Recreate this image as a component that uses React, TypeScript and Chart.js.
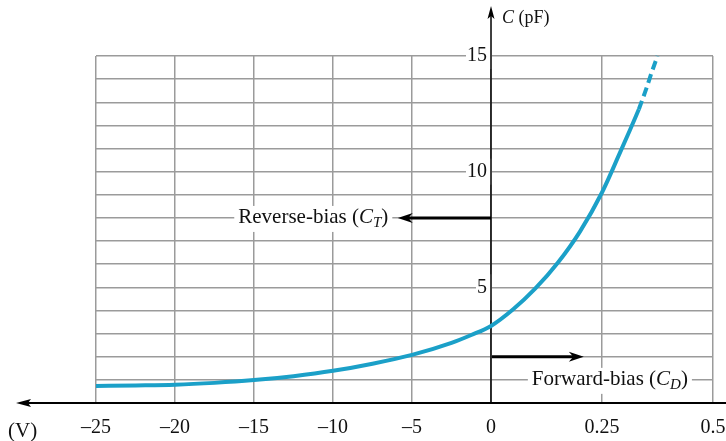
import React, { useEffect, useRef } from 'react';
import { Chart, registerables } from 'chart.js';

Chart.register(...registerables);

// ---- axis ticks ----
const X_TICK_VALUES = [-25, -20, -15, -10, -5, 0, 0.25, 0.5];
const X_TICK_LABELS = ['–25', '–20', '–15', '–10', '–5', '0', '0.25', '0.5'];
const Y_MIN = 0;
const Y_MAX = 15;
const Y_LABELED = [5, 10, 15];

// ---- curve data (V in volts, C in pF) ----
const V_SOLID = [-25, -22.5, -20, -17.5, -15, -12.5, -10, -7.5, -5, -2.5, -1.25, 0, 0.05, 0.1, 0.15, 0.2, 0.25, 0.29, 0.313, 0.333];
const C_SOLID = [0.74, 0.76, 0.79, 0.87, 0.99, 1.16, 1.39, 1.7, 2.08, 2.6, 2.94, 3.33, 4.05, 4.95, 6.05, 7.4, 9.1, 10.8, 11.8, 12.7];
const V_DASHED = [0.333, 0.35, 0.362, 0.375];
const C_DASHED = [12.7, 13.6, 14.3, 15.0];

// ---- annotations (data coordinates) ----
const REVERSE_ARROW_V = [0, -5.9];
const REVERSE_ARROW_C = 8;
const REVERSE_LABEL_END_V = -6.5;
const FORWARD_ARROW_V = [0, 0.209];
const FORWARD_ARROW_C = 2;
const FORWARD_LABEL_START_V = 0.092;
const FORWARD_LABEL_C = 1;

// mixed axis: reverse side 5 V per division, forward side 0.25 V per (wider) division
const REVERSE_VOLTS_PER_DIV = 5;
const FORWARD_VOLTS_PER_DIV = 0.25;
const FORWARD_DIV_WIDTH = 1.405;
const toAxis = (v: number) =>
  v <= 0 ? v / REVERSE_VOLTS_PER_DIV : (v / FORWARD_VOLTS_PER_DIV) * FORWARD_DIV_WIDTH;

const SERIF = '"Liberation Serif", "Times New Roman", serif';
const CURVE_COLOR = '#1ba0c8';
const GRID_COLOR = '#9b9b9b';

type Part = { text: string; font: string; dy?: number };

function richWidth(ctx: CanvasRenderingContext2D, parts: Part[]) {
  let w = 0;
  for (const p of parts) {
    ctx.font = p.font;
    w += ctx.measureText(p.text).width;
  }
  return w;
}

function drawRich(ctx: CanvasRenderingContext2D, parts: Part[], x: number, y: number) {
  let cx = x;
  ctx.textBaseline = 'middle';
  ctx.textAlign = 'left';
  for (const p of parts) {
    ctx.font = p.font;
    ctx.fillText(p.text, cx, y + (p.dy || 0));
    cx += ctx.measureText(p.text).width;
  }
}

function arrow(ctx: CanvasRenderingContext2D, x0: number, y0: number, x1: number, y1: number) {
  const dir = Math.sign(x1 - x0);
  const headLen = 15;
  const headHalf = 5;
  ctx.save();
  ctx.strokeStyle = '#000';
  ctx.fillStyle = '#000';
  ctx.lineWidth = 3;
  ctx.beginPath();
  ctx.moveTo(x0, y0);
  ctx.lineTo(x1 - dir * headLen * 0.6, y1);
  ctx.stroke();
  ctx.beginPath();
  ctx.moveTo(x1, y1);
  ctx.lineTo(x1 - dir * headLen, y1 - headHalf);
  ctx.lineTo(x1 - dir * headLen * 0.7, y1);
  ctx.lineTo(x1 - dir * headLen, y1 + headHalf);
  ctx.closePath();
  ctx.fill();
  ctx.restore();
}

const decorPlugin = {
  id: 'decor',
  beforeDatasetsDraw(chart: any) {
    const ctx: CanvasRenderingContext2D = chart.ctx;
    const xs = chart.scales.x;
    const ys = chart.scales.y;
    const x0 = xs.getPixelForValue(toAxis(0));
    const y0 = ys.getPixelForValue(0);
    ctx.save();
    ctx.strokeStyle = '#000';
    ctx.fillStyle = '#000';
    // x axis with arrow to the left
    ctx.lineWidth = 2;
    ctx.beginPath();
    ctx.moveTo(24, y0);
    ctx.lineTo(chart.width, y0);
    ctx.stroke();
    ctx.beginPath();
    ctx.moveTo(16, y0);
    ctx.lineTo(31, y0 - 4);
    ctx.lineTo(28, y0);
    ctx.lineTo(31, y0 + 4);
    ctx.closePath();
    ctx.fill();
    // y axis with arrow up
    ctx.lineWidth = 1.5;
    ctx.beginPath();
    ctx.moveTo(x0, y0);
    ctx.lineTo(x0, 14);
    ctx.stroke();
    ctx.beginPath();
    ctx.moveTo(x0, 6);
    ctx.lineTo(x0 - 3.5, 19);
    ctx.lineTo(x0, 16);
    ctx.lineTo(x0 + 3.5, 19);
    ctx.closePath();
    ctx.fill();
    ctx.restore();
  },
  afterDatasetsDraw(chart: any) {
    const ctx: CanvasRenderingContext2D = chart.ctx;
    const xs = chart.scales.x;
    const ys = chart.scales.y;
    const px = (v: number) => xs.getPixelForValue(toAxis(v));
    const py = (c: number) => ys.getPixelForValue(c);
    const x0 = px(0);
    ctx.save();
    ctx.fillStyle = '#111';

    // axis titles
    drawRich(
      ctx,
      [
        { text: 'C', font: `italic 18px ${SERIF}` },
        { text: ' (pF)', font: `18px ${SERIF}` },
      ],
      x0 + 11,
      18
    );
    drawRich(ctx, [{ text: '(V)', font: `21px ${SERIF}` }], 8, 431);

    // reverse-bias label + arrow
    const revParts: Part[] = [
      { text: 'Reverse-bias (', font: `21px ${SERIF}` },
      { text: 'C', font: `italic 21px ${SERIF}` },
      { text: 'T', font: `italic 15px ${SERIF}`, dy: 5 },
      { text: ')', font: `21px ${SERIF}` },
    ];
    const rw = richWidth(ctx, revParts);
    const rx = px(REVERSE_LABEL_END_V) - rw;
    const ry = py(REVERSE_ARROW_C);
    ctx.fillStyle = '#fff';
    ctx.fillRect(rx - 4, ry - 12, rw + 8, 26);
    ctx.fillStyle = '#111';
    drawRich(ctx, revParts, rx, ry);
    arrow(ctx, px(REVERSE_ARROW_V[0]), ry, px(REVERSE_ARROW_V[1]), ry);

    // forward-bias label + arrow
    const fy = py(FORWARD_ARROW_C);
    arrow(ctx, px(FORWARD_ARROW_V[0]) + 1, fy, px(FORWARD_ARROW_V[1]), fy);
    const fwdParts: Part[] = [
      { text: 'Forward-bias (', font: `21px ${SERIF}` },
      { text: 'C', font: `italic 21px ${SERIF}` },
      { text: 'D', font: `italic 15px ${SERIF}`, dy: 5 },
      { text: ')', font: `21px ${SERIF}` },
    ];
    const fw = richWidth(ctx, fwdParts);
    const fx = px(FORWARD_LABEL_START_V);
    const fly = py(FORWARD_LABEL_C);
    ctx.fillStyle = '#fff';
    ctx.fillRect(fx - 4, fly - 12, fw + 8, 26);
    ctx.fillStyle = '#111';
    drawRich(ctx, fwdParts, fx, fly);
    ctx.restore();
  },
};

const noScalePadding = (scale: any) => {
  scale.paddingLeft = 0;
  scale.paddingRight = 0;
  scale.paddingTop = 0;
  scale.paddingBottom = 0;
};

export default function App() {
  const canvasRef = useRef<HTMLCanvasElement | null>(null);

  useEffect(() => {
    const canvas = canvasRef.current;
    if (!canvas) return;
    const solid = V_SOLID.map((v, i) => ({ x: toAxis(v), y: C_SOLID[i] }));
    const dashed = V_DASHED.map((v, i) => ({ x: toAxis(v), y: C_DASHED[i] }));
    const chart = new Chart(canvas, {
      type: 'line',
      data: {
        datasets: [
          {
            data: solid,
            borderColor: CURVE_COLOR,
            borderWidth: 4,
            pointRadius: 0,
            cubicInterpolationMode: 'monotone',
            fill: false,
            clip: 6,
          } as any,
          {
            data: dashed,
            borderColor: CURVE_COLOR,
            borderWidth: 4,
            borderDash: [9, 5],
            pointRadius: 0,
            cubicInterpolationMode: 'monotone',
            fill: false,
            clip: 6,
          } as any,
        ],
      },
      options: {
        responsive: false,
        animation: false,
        devicePixelRatio: 1,
        events: [],
        layout: { padding: { left: 96, right: 13, top: 56, bottom: 38 } },
        plugins: { legend: { display: false }, tooltip: { enabled: false } },
        scales: {
          x: {
            type: 'linear',
            position: { y: 0 } as any,
            min: toAxis(X_TICK_VALUES[0]),
            max: toAxis(X_TICK_VALUES[X_TICK_VALUES.length - 1]),
            afterBuildTicks: (scale: any) => {
              scale.ticks = X_TICK_VALUES.map((v) => ({ value: toAxis(v) }));
            },
            afterFit: noScalePadding,
            grid: { color: GRID_COLOR, lineWidth: 1.5, drawTicks: false },
            border: { display: false },
            ticks: {
              autoSkip: false,
              maxRotation: 0,
              padding: 13,
              color: '#111',
              font: { family: SERIF, size: 20 },
              callback: (_v: any, i: number) => X_TICK_LABELS[i],
            },
          },
          y: {
            type: 'linear',
            position: { x: 0 } as any,
            min: Y_MIN,
            max: Y_MAX,
            afterFit: noScalePadding,
            grid: { color: GRID_COLOR, lineWidth: 1.5, drawTicks: false },
            border: { display: false },
            ticks: {
              stepSize: 1,
              autoSkip: false,
              padding: 4,
              color: '#111',
              font: { family: SERIF, size: 20 },
              showLabelBackdrop: (c: any) => Y_LABELED.includes(c.tick && c.tick.value),
              backdropColor: '#fff',
              backdropPadding: 1,
              callback: (v: any) => (Y_LABELED.includes(Number(v)) ? String(v) + '\u2009' : ''),
            },
          },
        },
      } as any,
      plugins: [decorPlugin],
    });
    return () => chart.destroy();
  }, []);

  return (
    <div style={{ position: 'absolute', left: 0, top: 0, width: 726, height: 441, background: '#fff' }}>
      <canvas ref={canvasRef} width={726} height={441} style={{ display: 'block' }} />
    </div>
  );
}
